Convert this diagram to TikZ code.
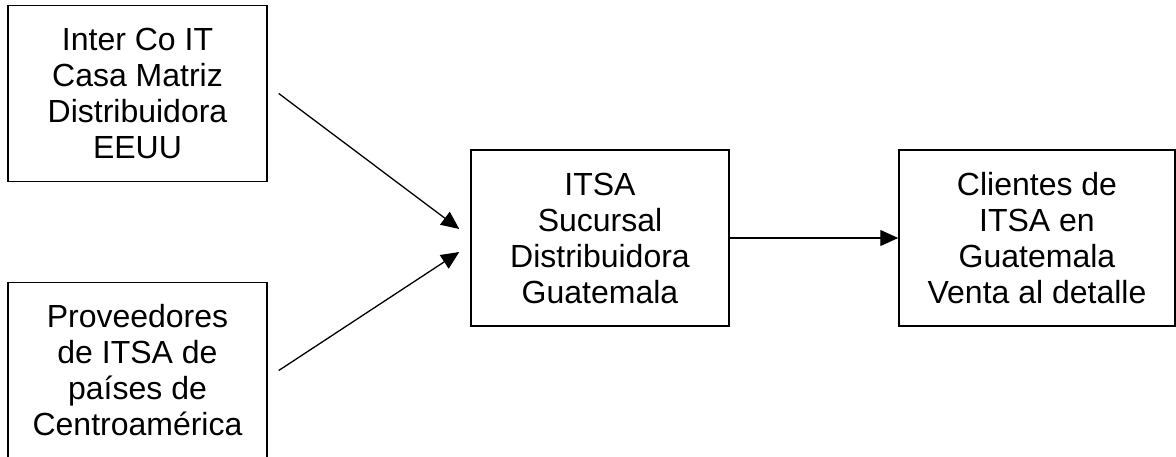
\documentclass[tikz,border=0pt]{standalone}
\usepackage{fontspec}
\setmainfont{Liberation Sans}
\usepackage{tikz}
\usetikzlibrary{arrows.meta,positioning}

\begin{document}
\begin{tikzpicture}[x=1pt,y=-1pt,
    box/.style={draw, line width=1.5pt, align=center, inner sep=0pt,
      minimum height=176pt, font=\fontsize{32}{36}\selectfont},
    >={Triangle[length=18pt,width=16pt]}]

      \clip (0,0) rectangle (1176,457);

      \node[box, minimum width=259pt] (inter_co)    at (137.5,93.5)  {Inter Co IT\\Casa Matriz\\Distribuidora\\EEUU};
      \node[box, minimum width=259pt] (proveedores) at (137.5,370.5) {Proveedores\\de ITSA de\\países de\\Centroamérica};
      \node[box, minimum width=258pt] (itsa_gt)     at (600,238)     {ITSA\\Sucursal\\Distribuidora\\Guatemala};
      \node[box, minimum width=276pt] (clientes)    at (1037,238)    {Clientes de\\ITSA en\\Guatemala\\Venta al detalle};

      \coordinate (from_us) at ([xshift=11pt]inter_co.east);
      \coordinate (from_ca) at ([xshift=11pt]proveedores.east);
      \coordinate (to_us)   at ([xshift=-11pt,yshift=9pt]itsa_gt.west);
      \coordinate (to_ca)   at ([xshift=-11pt,yshift=-14pt]itsa_gt.west);

      \path[->, line width=1.3pt]
      (from_us) edge (to_us)
      (from_ca) edge (to_ca)
      (itsa_gt) edge (clientes)
      ;
    \end{tikzpicture}
\end{document}
